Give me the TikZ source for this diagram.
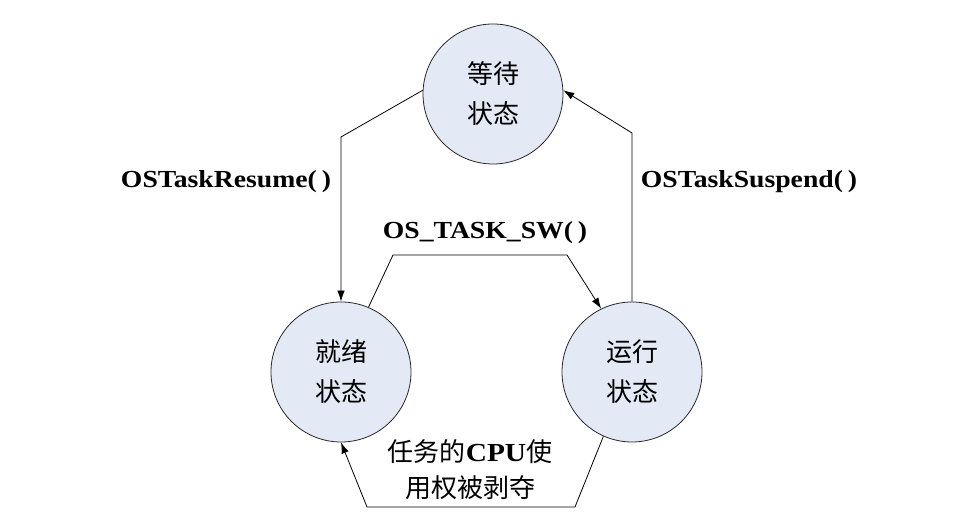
\documentclass[tikz,border=0pt]{standalone}
\usepackage{fontspec}
\setmainfont{Liberation Serif}
\newfontfamily\cjk{Noto Sans CJK SC}
\newfontfamily\lbl[FakeStretch=1.13]{Liberation Serif}
\usetikzlibrary{arrows.meta,calc}
\definecolor{cfill}{RGB}{227,234,245}
\begin{document}
\begin{tikzpicture}[x=1pt,y=1pt]
\useasboundingbox (0,0) rectangle (958,532);
\tikzset{
  state/.style={circle, draw=black!85, fill=cfill, minimum size=140pt, inner sep=0pt,
    line width=0.8pt, align=center, font=\cjk\fontsize{26}{40}\selectfont},
  conn/.style={line width=0.8pt, -{Latex[length=11pt,width=7.5pt]}},
  lab/.style={font=\lbl\bfseries\fontsize{24.5}{30}\selectfont, anchor=base, inner sep=0pt},
  cjklab/.style={font=\cjk\fontsize{26}{36}\selectfont, align=center, inner sep=0pt}
}
\node[state] (wait) at (493,438) {等待\\状态};
\node[state] (ready) at (341,160) {就绪\\状态};
\node[state] (run) at (632,160) {运行\\状态};

\coordinate (c1) at (342,395);
\coordinate (c2) at (632,399);
\coordinate (s1) at (393,277);
\coordinate (s2) at (567,277);
\coordinate (b1) at (575,25);
\coordinate (b2) at (367,25);

\draw[conn] (wait.177) -- (ready.north |- c1) -- (ready.north);
\draw[conn] (run.north) -- (c2) -- (wait.3);
\draw[conn] (ready.67) -- (s1) -- (s2) -- (run.116);
\draw[conn] (run.246) -- (b1) -- (b2) -- (ready.south);

\node[lab] (lres) at (226,344) {OSTaskResume(\kern0.2em)};
\node[lab] (lsus) at (749,344) {OSTaskSuspend(\kern0.2em)};
\node[lab] (lsw) at (485,293) {OS\_TASK\_SW(\kern0.2em)};
\node[cjklab] (lcpu) at (470,62) {任务的{\lbl\bfseries\fontsize{26}{36}\selectfont CPU}使\\用权被剥夺};
\end{tikzpicture}
\end{document}
